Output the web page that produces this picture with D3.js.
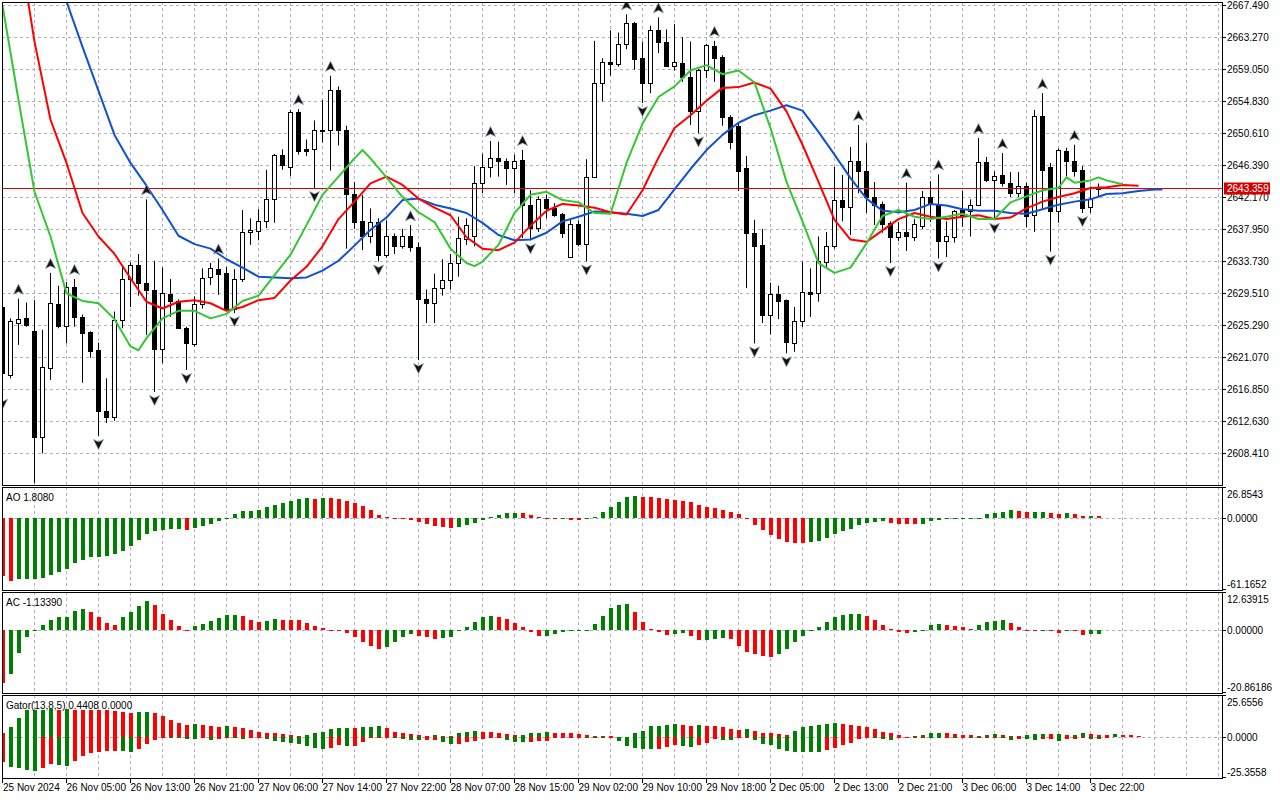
<!DOCTYPE html>
<html>
<head>
<meta charset="utf-8">
<script src="https://cdn.jsdelivr.net/npm/d3@7"></script>
<style>
  body { margin: 0; background: #fff; }
  svg { display: block; }
  text { font-family: "Liberation Sans", Arial, sans-serif; font-size: 10px; fill: #000; }
</style>
</head>
<body>
<div id="chart"></div>
<script>
// XAUUSD H1, 138 bars (index 0 = first visible bar)
const open = [
  2627.7, 2618.7, 2625.6, 2626.2, 2624.5, 2610.5, 2619.7, 2628.1, 2625.2, 2630.3,
  2626.4, 2624.4, 2622.0, 2614.0, 2613.2, 2626.0, 2631.4, 2633.2, 2630.9, 2629.9,
  2622.2, 2629.4, 2628.5, 2624.9, 2622.8, 2628.1, 2631.6, 2632.7, 2632.2, 2627.5,
  2631.4, 2637.6, 2637.7, 2639.0, 2642.0, 2647.8, 2646.2, 2653.4, 2648.5, 2648.6,
  2651.1, 2651.1, 2656.3, 2651.0, 2642.6, 2639.0, 2637.1, 2638.9, 2634.6, 2637.1,
  2635.7, 2637.1, 2635.6, 2628.8, 2628.2, 2630.2, 2631.2, 2633.5, 2636.7, 2637.1,
  2644.0, 2646.1, 2647.4, 2647.0, 2646.0, 2647.1, 2641.2, 2638.1, 2642.0, 2640.8,
  2640.0, 2634.3, 2638.6, 2636.0, 2644.8, 2657.3, 2660.0, 2659.8, 2662.4, 2665.2,
  2660.5, 2657.2, 2664.2, 2662.7, 2659.5, 2659.9, 2658.0, 2653.5, 2658.9, 2662.1,
  2660.7, 2652.8, 2651.6, 2646.0, 2637.4, 2635.9, 2626.7, 2629.4, 2628.6, 2623.0,
  2625.8, 2629.7, 2629.5, 2633.6, 2635.8, 2641.8, 2640.9, 2646.9, 2645.6, 2642.2,
  2641.3, 2638.8, 2637.0, 2637.6, 2637.0, 2638.4, 2642.2, 2641.3, 2636.4, 2637.0,
  2640.5, 2640.4, 2641.1, 2646.8, 2644.4, 2645.1, 2644.0, 2642.7, 2643.7, 2639.9,
  2652.9, 2646.1, 2640.3, 2648.3, 2647.0, 2645.8, 2640.9, 2643.3
];
const high = [
  2628.6, 2626.2, 2628.8, 2628.3, 2628.6, 2624.7, 2632.2, 2630.5, 2631.0, 2631.4,
  2626.7, 2624.5, 2623.0, 2618.3, 2627.1, 2633.2, 2633.6, 2634.7, 2641.9, 2633.8,
  2632.9, 2631.4, 2628.7, 2625.1, 2629.1, 2632.8, 2633.5, 2634.1, 2633.0, 2632.7,
  2640.5, 2639.4, 2640.6, 2645.8, 2647.9, 2648.5, 2653.7, 2653.8, 2649.8, 2652.3,
  2655.0, 2658.2, 2656.8, 2651.6, 2644.2, 2642.5, 2640.7, 2639.4, 2639.1, 2637.4,
  2638.0, 2638.5, 2636.2, 2630.0, 2632.1, 2634.0, 2634.7, 2639.6, 2639.4, 2646.3,
  2647.9, 2649.6, 2649.5, 2647.3, 2647.8, 2648.4, 2643.1, 2642.3, 2642.5, 2641.4,
  2640.1, 2639.2, 2639.1, 2647.2, 2662.8, 2660.5, 2664.2, 2663.9, 2666.3, 2665.3,
  2662.7, 2664.8, 2665.9, 2664.3, 2665.0, 2663.3, 2662.7, 2659.1, 2662.4, 2662.8,
  2660.9, 2653.0, 2652.0, 2647.6, 2639.2, 2638.0, 2630.9, 2630.5, 2628.7, 2627.7,
  2633.7, 2632.8, 2637.0, 2637.6, 2646.2, 2645.1, 2648.8, 2651.7, 2649.3, 2644.2,
  2641.6, 2639.0, 2638.9, 2644.1, 2639.3, 2643.0, 2644.3, 2645.2, 2639.0, 2640.5,
  2643.0, 2641.9, 2650.0, 2647.5, 2645.6, 2648.0, 2645.5, 2645.5, 2644.1, 2653.7,
  2655.9, 2646.7, 2648.6, 2648.7, 2649.1, 2646.3, 2643.6, 2644.0
];
const low = [
  2616.0, 2618.3, 2622.7, 2625.1, 2604.5, 2608.4, 2618.1, 2624.9, 2622.9, 2625.1,
  2617.7, 2621.0, 2610.7, 2612.4, 2612.7, 2624.9, 2627.7, 2629.2, 2624.0, 2616.5,
  2620.3, 2626.4, 2624.8, 2619.4, 2622.5, 2627.5, 2630.6, 2629.3, 2627.3, 2626.9,
  2631.0, 2635.9, 2636.5, 2638.1, 2638.8, 2645.8, 2645.0, 2647.8, 2647.6, 2643.4,
  2649.4, 2645.7, 2649.0, 2635.4, 2638.0, 2635.2, 2636.1, 2633.7, 2634.2, 2634.7,
  2635.4, 2635.0, 2620.7, 2625.6, 2625.6, 2629.2, 2630.0, 2631.7, 2635.9, 2635.7,
  2642.7, 2644.8, 2644.9, 2643.8, 2642.7, 2636.8, 2636.5, 2637.6, 2639.4, 2639.6,
  2636.8, 2634.2, 2635.7, 2633.7, 2644.7, 2654.8, 2658.2, 2659.4, 2661.7, 2659.0,
  2654.6, 2655.9, 2661.2, 2659.4, 2658.9, 2657.4, 2651.7, 2650.6, 2657.9, 2657.4,
  2651.6, 2648.5, 2643.0, 2630.2, 2622.9, 2625.6, 2624.1, 2626.1, 2621.6, 2621.8,
  2625.1, 2626.4, 2628.4, 2633.0, 2635.4, 2639.0, 2637.2, 2642.7, 2640.1, 2638.5,
  2637.5, 2633.5, 2636.4, 2635.1, 2636.4, 2638.0, 2638.9, 2634.1, 2634.3, 2636.2,
  2638.3, 2637.0, 2641.0, 2644.2, 2639.2, 2643.6, 2642.2, 2642.2, 2638.2, 2637.6,
  2640.5, 2635.0, 2638.8, 2644.9, 2644.9, 2640.1, 2640.1, 2642.2
];
const close = [
  2619.0, 2625.8, 2626.1, 2625.3, 2610.5, 2619.8, 2628.2, 2625.2, 2630.3, 2626.4,
  2624.3, 2621.9, 2614.0, 2613.2, 2626.0, 2631.4, 2633.2, 2630.9, 2629.9, 2622.2,
  2629.5, 2628.5, 2624.9, 2622.9, 2628.1, 2631.5, 2632.9, 2632.1, 2627.5, 2631.4,
  2637.6, 2637.8, 2639.1, 2642.0, 2647.8, 2646.4, 2653.4, 2648.3, 2648.3, 2651.0,
  2650.9, 2656.3, 2651.0, 2642.6, 2638.9, 2637.1, 2638.9, 2634.6, 2637.1, 2635.8,
  2637.1, 2635.6, 2628.7, 2628.2, 2630.2, 2631.2, 2633.5, 2636.8, 2638.5, 2644.0,
  2646.1, 2647.4, 2646.9, 2646.0, 2647.0, 2641.2, 2638.1, 2642.0, 2640.8, 2639.8,
  2637.4, 2638.7, 2636.0, 2644.8, 2657.3, 2660.0, 2659.8, 2662.4, 2665.2, 2660.4,
  2657.2, 2664.2, 2662.7, 2659.5, 2660.0, 2658.0, 2653.5, 2659.0, 2662.3, 2660.6,
  2652.7, 2649.5, 2645.6, 2637.4, 2635.8, 2626.7, 2629.4, 2628.5, 2623.1, 2625.8,
  2629.7, 2629.4, 2633.8, 2635.8, 2641.8, 2640.9, 2646.9, 2645.6, 2642.2, 2641.2,
  2638.7, 2637.0, 2637.6, 2637.1, 2638.7, 2642.2, 2641.3, 2636.4, 2637.1, 2640.4,
  2639.8, 2641.1, 2646.8, 2644.4, 2645.0, 2644.0, 2642.7, 2643.7, 2639.7, 2652.9,
  2645.8, 2640.4, 2648.4, 2646.9, 2645.6, 2640.8, 2642.0, 2643.359
];

// Alligator lines as [bar index, price] (already shifted forward: jaw 8, teeth 5, lips 3)
const jaw = [
  [6, 2672.0], [8, 2668.0], [10, 2662.0], [12, 2656.2], [14, 2650.4], [16, 2646.7], [18, 2643.7],
  [20, 2640.5], [22, 2637.1], [24, 2636.0], [26, 2635.4], [28, 2634.0], [30, 2632.9], [32, 2631.7],
  [34, 2631.6], [36, 2631.5], [38, 2631.6], [40, 2632.5], [42, 2633.8], [44, 2635.8], [46, 2637.9],
  [48, 2639.5], [50, 2641.8], [52, 2642.0], [54, 2641.2], [56, 2640.7], [58, 2640.1], [60, 2638.8],
  [62, 2637.2], [64, 2636.5], [66, 2636.6], [68, 2637.5], [70, 2639.0], [72, 2639.6], [74, 2640.3],
  [76, 2640.2], [78, 2640.0], [80, 2639.7], [82, 2640.5], [84, 2643.2], [86, 2645.9], [88, 2648.4],
  [90, 2650.4], [92, 2652.0], [94, 2653.0], [96, 2653.6], [98, 2654.3], [100, 2653.6], [102, 2650.8],
  [104, 2647.8], [106, 2644.7], [108, 2642.0], [110, 2640.4], [112, 2640.2], [114, 2640.5], [116, 2641.3],
  [118, 2641.1], [120, 2640.6], [122, 2640.4], [124, 2640.4], [126, 2640.1], [128, 2640.0], [130, 2640.6],
  [132, 2641.2], [134, 2641.6], [136, 2641.9], [138, 2642.6], [140, 2642.7], [142, 2643.0], [144, 2643.2],
  [145, 2643.2]
];
const teeth = [
  [2, 2676.0], [4, 2662.7], [6, 2652.4], [8, 2646.7], [10, 2640.1], [12, 2637.0], [14, 2634.7],
  [16, 2631.5], [18, 2628.4], [20, 2627.5], [22, 2628.4], [24, 2628.6], [26, 2628.2], [28, 2627.2],
  [30, 2627.7], [32, 2628.6], [34, 2628.9], [36, 2631.2], [38, 2633.0], [40, 2635.7], [42, 2639.3],
  [44, 2641.6], [46, 2644.0], [48, 2644.9], [50, 2643.8], [52, 2642.0], [54, 2640.8], [56, 2639.8],
  [58, 2636.9], [60, 2635.4], [62, 2635.2], [64, 2636.2], [66, 2638.4], [68, 2640.4], [70, 2641.3],
  [72, 2641.1], [74, 2640.8], [76, 2640.2], [78, 2639.9], [80, 2643.1], [82, 2647.4], [84, 2651.3],
  [86, 2653.0], [88, 2654.9], [90, 2656.6], [92, 2656.7], [94, 2657.3], [96, 2656.5], [98, 2653.5],
  [100, 2649.1], [102, 2644.2], [104, 2639.2], [106, 2636.6], [108, 2636.3], [110, 2637.8], [112, 2639.3],
  [114, 2640.1], [116, 2639.6], [118, 2639.3], [120, 2639.6], [122, 2639.8], [124, 2639.3], [126, 2639.5],
  [128, 2640.7], [130, 2641.6], [132, 2642.2], [134, 2642.7], [136, 2643.4], [138, 2643.5], [140, 2643.8],
  [142, 2643.7]
];
const lips = [
  [0, 2667.5], [2, 2655.0], [4, 2642.9], [6, 2637.0], [8, 2629.5], [10, 2628.5], [12, 2628.2],
  [14, 2626.1], [16, 2622.5], [17, 2622.0], [18, 2623.6], [20, 2626.2], [22, 2627.2], [24, 2627.2],
  [26, 2626.2], [28, 2626.8], [30, 2628.5], [32, 2629.2], [34, 2631.9], [36, 2634.6], [38, 2638.5],
  [40, 2642.5], [42, 2644.9], [44, 2647.3], [45, 2648.4], [46, 2647.3], [48, 2644.8], [50, 2642.2],
  [52, 2640.2], [54, 2638.9], [56, 2635.4], [58, 2633.5], [59, 2633.1], [60, 2633.7], [62, 2635.9],
  [64, 2640.1], [66, 2642.5], [68, 2642.9], [70, 2641.8], [72, 2641.5], [74, 2640.1], [76, 2640.0],
  [78, 2646.7], [80, 2651.9], [82, 2655.4], [84, 2656.8], [86, 2658.9], [88, 2659.6], [90, 2658.4],
  [92, 2658.9], [94, 2657.3], [96, 2651.3], [98, 2644.2], [100, 2639.0], [102, 2633.5], [104, 2632.2],
  [106, 2632.9], [108, 2636.1], [110, 2639.7], [112, 2640.5], [114, 2639.6], [116, 2639.3], [118, 2639.6],
  [120, 2640.0], [122, 2639.3], [124, 2639.3], [126, 2641.5], [128, 2642.3], [130, 2643.1], [132, 2643.4],
  [133, 2644.8], [134, 2644.1], [136, 2644.4], [137, 2644.8], [138, 2644.4], [140, 2643.9]
];

// Bill Williams fractals (bar indices)
const upFractals = [2, 6, 9, 18, 27, 37, 41, 51, 61, 65, 78, 82, 89, 107, 113, 117, 122, 125, 130, 134];
const downFractals = [0, 12, 19, 23, 29, 39, 47, 52, 66, 73, 80, 87, 94, 98, 111, 117, 124, 131, 135];

// Awesome Oscillator
const ao = [
  -49.1, -53.1, -52.0, -51.7, -51.4, -50.5, -48.3, -45.4, -43.2, -38.3,
  -35.5, -33.2, -32.7, -31.8, -30.4, -27.8, -23.3, -18.5, -13.1, -10.8,
  -9.9, -8.9, -8.8, -9.9, -7.9, -6.2, -4.5, -2.3, 0.6, 4.0,
  6.0, 6.2, 7.1, 9.7, 11.6, 13.3, 15.0, 16.8, 17.3, 16.5,
  17.6, 17.5, 16.5, 14.8, 13.1, 10.8, 7.1, 3.1, 1.1, 0.3,
  -0.6, -1.4, -2.8, -4.5, -6.2, -7.1, -8.2, -7.1, -5.4, -3.7,
  -1.1, 0.9, 2.6, 4.5, 4.8, 4.3, 2.8, 1.1, -0.1, -0.5,
  -0.3, -1.1, -1.4, -0.9, 1.1, 5.4, 9.9, 13.9, 18.2, 19.3,
  18.7, 17.9, 17.3, 16.5, 15.6, 14.5, 13.9, 11.4, 9.7, 8.8,
  7.1, 5.4, 3.7, 0.3, -5.7, -9.9, -14.2, -17.6, -20.2, -20.7,
  -21.3, -20.2, -19.0, -16.5, -13.3, -10.8, -9.1, -5.7, -3.7, -2.8,
  -2.6, -3.7, -4.5, -4.8, -5.1, -4.5, -2.3, -1.1, -0.9, -0.6,
  -0.3, -0.1, 0.6, 3.7, 4.5, 5.1, 6.8, 6.0, 5.1, 5.25,
  5.4, 4.3, 3.7, 4.3, 3.4, 2.0, 2.3, 1.808
];

// Accelerator Oscillator
const ac = [
  -17.6, -14.6, -7.7, -2.4, 0.2, 1.8, 3.4, 4.2, 4.5, 6.4,
  7.1, 6.1, 4.2, 2.4, 1.8, 4.2, 6.1, 8.1, 9.7, 8.4,
  5.4, 3.4, 1.4, -0.1, 1.2, 2.1, 3.1, 4.1, 5.0, 5.1,
  4.8, 3.4, 2.8, 3.1, 3.8, 3.5, 3.4, 3.3, 2.5, 1.4,
  0.8, -0.05, -0.1, -1.1, -2.4, -4.1, -5.4, -6.4, -5.7, -4.1,
  -2.3, -1.3, -1.9, -2.3, -2.9, -2.65, -2.4, -0.4, 1.1, 2.7,
  4.2, 4.8, 4.4, 3.8, 2.4, 1.1, -0.7, -1.9, -1.8, -1.3,
  -0.7, -0.4, 0.05, 0.1, 2.1, 4.8, 7.2, 8.4, 8.5, 6.1,
  2.8, 0.3, -0.7, -1.5, -1.3, -1.0, -1.8, -3.3, -3.2, -2.9,
  -2.76, -2.9, -5.2, -7.1, -7.8, -8.7, -8.8, -7.8, -6.2, -3.9,
  -1.8, -0.1, 1.1, 2.7, 4.4, 5.1, 5.2, 5.4, 4.8, 3.4,
  1.7, 0.4, -0.7, -0.9, -0.7, 0.2, 1.7, 2.1, 1.7, 1.4,
  1.1, 0.3, 1.7, 2.7, 3.1, 3.2, 2.4, 1.1, -0.2, -0.3,
  -0.1, -0.4, -0.8, -0.1, -0.4, -1.5, -1.2, -1.1339
];

// Gator Oscillator: upper |jaw - teeth|, lower |teeth - lips|
const gatorUp = [
  2.4, 5.7, 11.3, 16.6, 16.65, 16.7, 16.75, 16.7, 16.75, 16.7,
  16.65, 16.6, 16.55, 16.5, 15.6, 15.2, 14.8, 15.2, 15.4, 14.8,
  13.0, 10.5, 8.7, 7.5, 7.6, 7.5, 6.7, 6.1, 6.9, 6.1,
  5.3, 4.0, 3.2, 2.6, 2.55, 1.8, 0.8, 0.4, 1.2, 2.0,
  3.2, 4.5, 5.1, 5.2, 5.15, 5.7, 5.8, 6.3, 5.3, 3.2,
  2.0, 1.4, 0.8, 0.4, 0.8, 0.3, 0.2, 2.0, 3.2, 3.8,
  3.2, 3.1, 2.0, 1.4, 0.9, 1.0, 2.0, 2.6, 2.65, 2.6,
  2.55, 2.0, 1.4, 0.8, 0.6, 0.3, 0.2, 0.1, 0.05, 2.0,
  3.8, 6.3, 6.9, 7.5, 8.1, 7.5, 6.9, 6.95, 6.9, 6.3,
  5.7, 4.5, 4.45, 4.5, 3.8, 2.6, 2.4, 1.4, 1.0, 3.8,
  5.7, 6.9, 7.5, 8.1, 8.7, 8.1, 7.5, 6.9, 5.7, 4.5,
  3.2, 2.0, 0.8, 0.1, 0.4, 0.8, 2.0, 2.05, 2.0, 1.4,
  1.35, 0.8, 0.75, 0.8, 1.4, 0.8, 0.75, 0.2, 0.8, 1.4,
  1.45, 1.4, 1.45, 0.8, 0.85, 2.0, 1.4, 1.35, 0.8, 1.4,
  1.35, 0.8, 0.4408
];
const gatorDown = [
  15.8, 18.4, 19.2, 20.4, 21.1, 19.2, 16.8, 17.4, 17.8, 15.0,
  11.7, 9.9, 9.1, 8.7, 8.5, 8.7, 9.3, 7.3, 4.7, 2.0,
  0.3, 0.6, 1.0, 1.2, 1.4, 0.8, 2.0, 1.2, 0.6, 1.0,
  1.2, 0.6, 0.4, 1.6, 2.6, 3.2, 3.8, 4.7, 5.7, 6.7,
  7.3, 6.7, 5.3, 5.9, 5.7, 3.2, 0.8, 0.6, 0.2, 1.0,
  1.6, 2.2, 2.3, 2.0, 1.8, 3.2, 4.7, 4.5, 3.2, 2.6,
  1.6, 0.6, 0.4, 2.0, 3.2, 3.3, 3.2, 2.6, 2.5, 1.0,
  0.5, 0.3, 0.2, 0.4, 0.6, 0.8, 0.1, 2.6, 5.7, 7.1,
  7.5, 7.7, 7.5, 6.3, 5.3, 5.9, 6.0, 5.1, 4.1, 1.6,
  1.8, 1.9, 0.8, 0.2, 2.0, 4.7, 4.8, 7.7, 8.7, 9.5,
  9.55, 9.6, 9.65, 8.3, 7.1, 5.3, 4.0, 1.6, 0.1, 0.4,
  1.6, 2.2, 1.0, 0.2, 0.1, 0.05, 0.1, 0.2, 0.1, 0.5,
  0.3, 0.4, 0.5, 0.3, 0.2, 1.0, 2.2, 1.6, 1.65, 1.7,
  1.2, 1.1, 2.8, 1.6, 1.5, 0.1, 1.6, 1.65, 0.6
];
const gatorDownLast = 0.0;

// axes
const priceTicks = [2667.49, 2663.27, 2659.05, 2654.83, 2650.61, 2646.39, 2642.17, 2637.95,
  2633.73, 2629.51, 2625.29, 2621.07, 2616.85, 2612.63, 2608.41];
const aoRange = [-61.1652, 26.8543];
const acRange = [-20.86186, 12.63915];
const gatorRange = [-25.3558, 25.6556];
const timeTickIdx = [0, 8, 16, 24, 32, 40, 48, 56, 64, 72, 80, 88, 96, 104, 112, 120, 128, 136];
const timeLabels = ["25 Nov 2024", "26 Nov 05:00", "26 Nov 13:00", "26 Nov 21:00", "27 Nov 06:00",
  "27 Nov 14:00", "27 Nov 22:00", "28 Nov 07:00", "28 Nov 15:00", "29 Nov 02:00", "29 Nov 10:00",
  "29 Nov 18:00", "2 Dec 05:00", "2 Dec 13:00", "2 Dec 21:00", "3 Dec 06:00", "3 Dec 14:00", "3 Dec 22:00"];

const W = 1280, H = 800;
const plotL = 2, plotR = 1222;
const panels = {
  main: { top: 2, bottom: 485 },
  ao: { top: 487, bottom: 590 },
  ac: { top: 592, bottom: 693 },
  gator: { top: 695, bottom: 778 }
};
const GREEN = "#008000", RED = "#ff0000";

const x = d3.scaleLinear().domain([0, 152.5]).range([plotL, plotR]);
const cx = i => Math.round(x(i)) + 0.5;
const yMain = d3.scaleLinear().domain([priceTicks[priceTicks.length - 1], priceTicks[0]]).range([453.3, 5.3]);
const yAO = d3.scaleLinear().domain(aoRange).range([panels.ao.bottom, panels.ao.top]);
const yAC = d3.scaleLinear().domain(acRange).range([panels.ac.bottom, panels.ac.top]);
const yGator = d3.scaleLinear().domain(gatorRange).range([panels.gator.bottom, panels.gator.top]);

const svg = d3.select("#chart").append("svg").attr("width", W).attr("height", H);
svg.append("rect").attr("width", W).attr("height", H).attr("fill", "#fff");

const defs = svg.append("defs");
Object.entries(panels).forEach(([k, p]) => {
  defs.append("clipPath").attr("id", "clip-" + k).append("rect")
    .attr("x", plotL + 1).attr("y", p.top + 1)
    .attr("width", plotR - plotL - 1).attr("height", p.bottom - p.top - 1);
});

// grid
const gridIdx = d3.range(4, 153, 4);
Object.entries(panels).forEach(([k, p]) => {
  svg.append("g").selectAll("line").data(gridIdx).join("line")
    .attr("x1", cx).attr("x2", cx)
    .attr("y1", p.top).attr("y2", p.bottom)
    .attr("stroke", "#bba8c2").attr("stroke-dasharray", "3,3")
    .attr("shape-rendering", "crispEdges");
});
svg.append("g").selectAll("line").data(priceTicks).join("line")
  .attr("x1", plotL).attr("x2", plotR)
  .attr("y1", d => Math.round(yMain(d)) + 0.5).attr("y2", d => Math.round(yMain(d)) + 0.5)
  .attr("stroke", "#a9b8a9").attr("stroke-dasharray", "3,3")
  .attr("shape-rendering", "crispEdges");
[yAO, yAC, yGator].forEach(ys => {
  svg.append("line")
    .attr("x1", plotL).attr("x2", plotR)
    .attr("y1", Math.round(ys(0)) + 0.5).attr("y2", Math.round(ys(0)) + 0.5)
    .attr("stroke", "#a4b0c8").attr("stroke-dasharray", "3,3")
    .attr("shape-rendering", "crispEdges");
});

// main chart
const gMain = svg.append("g").attr("clip-path", "url(#clip-main)");
const bars = open.map((o, i) => ({ i, o, h: high[i], l: low[i], c: close[i] }));

gMain.append("g").selectAll("line").data(bars).join("line")
  .attr("x1", d => cx(d.i)).attr("x2", d => cx(d.i))
  .attr("y1", d => yMain(d.h)).attr("y2", d => yMain(d.l))
  .attr("stroke", "#000").attr("stroke-width", 1);

gMain.append("g").selectAll("rect").data(bars).join("rect")
  .attr("x", d => cx(d.i) - 2)
  .attr("width", 4)
  .attr("y", d => Math.round(yMain(Math.max(d.o, d.c))) + 0.5)
  .attr("height", d => Math.max(0.01, Math.round(yMain(Math.min(d.o, d.c))) - Math.round(yMain(Math.max(d.o, d.c)))))
  .attr("fill", d => d.c >= d.o ? "#fff" : "#000")
  .attr("stroke", "#000").attr("stroke-width", 1);

// bid line
const bid = close[close.length - 1];
gMain.append("line")
  .attr("x1", plotL).attr("x2", plotR)
  .attr("y1", Math.round(yMain(bid)) + 0.5).attr("y2", Math.round(yMain(bid)) + 0.5)
  .attr("stroke", "#e00000").attr("stroke-width", 1);

// alligator
const line = d3.line().x(d => cx(d[0])).y(d => yMain(d[1]));
[[jaw, "#1050d2"], [teeth, "#ff0000"], [lips, "#33c733"]].forEach(([pts, col]) => {
  gMain.append("path").attr("d", line(pts))
    .attr("fill", "none").attr("stroke", col).attr("stroke-width", 2)
    .attr("stroke-linejoin", "round");
});

// fractals
const upArrow = "M0,-5.5 L5,4.5 L0,2 L-5,4.5 Z";
const downArrow = "M0,5.5 L5,-4.5 L0,-2 L-5,-4.5 Z";
gMain.append("g").selectAll("path").data(upFractals).join("path")
  .attr("d", upArrow)
  .attr("transform", i => `translate(${cx(i)},${yMain(high[i]) - 9})`)
  .attr("fill", "#111").attr("stroke", "#8a9ab0").attr("stroke-width", 0.7);
gMain.append("g").selectAll("path").data(downFractals).join("path")
  .attr("d", downArrow)
  .attr("transform", i => `translate(${cx(i)},${yMain(low[i]) + 8})`)
  .attr("fill", "#111").attr("stroke", "#8a9ab0").attr("stroke-width", 0.7);

// histograms: green when the series grows versus the previous bar
function histogram(key, series, sign, ys) {
  const g = svg.append("g").attr("clip-path", `url(#clip-${key})`);
  const z = ys(0);
  g.selectAll("rect").data(series).join("rect")
    .attr("x", (v, i) => cx(i) - 1.5)
    .attr("width", 4)
    .attr("y", v => Math.min(z, ys(sign * v)))
    .attr("height", v => Math.max(1, Math.abs(ys(sign * v) - z)))
    .attr("fill", (v, i) => (i > 0 && v > series[i - 1]) ? GREEN : RED)
    .attr("shape-rendering", "crispEdges");
}
histogram("ao", ao, 1, yAO);
histogram("ac", ac, 1, yAC);
histogram("gator", gatorUp, 1, yGator);
histogram("gator", gatorDown, -1, yGator);

// panel borders
Object.values(panels).forEach(p => {
  svg.append("rect")
    .attr("x", plotL + 0.5).attr("y", p.top + 0.5)
    .attr("width", plotR - plotL).attr("height", p.bottom - p.top)
    .attr("fill", "none").attr("stroke", "#000").attr("stroke-width", 1);
});

// right price axis
const axisG = svg.append("g");
priceTicks.forEach(t => {
  const yy = Math.round(yMain(t)) + 0.5;
  axisG.append("line").attr("x1", plotR).attr("x2", plotR + 4).attr("y1", yy).attr("y2", yy).attr("stroke", "#000");
  axisG.append("text").attr("x", plotR + 5).attr("y", yy).attr("dy", "0.35em").text(t.toFixed(3));
});
const bidY = Math.round(yMain(bid)) + 0.5;
axisG.append("rect").attr("x", plotR + 2).attr("y", bidY - 6).attr("width", 46).attr("height", 12).attr("fill", "#d40000");
axisG.append("text").attr("x", plotR + 5).attr("y", bidY).attr("dy", "0.35em").style("fill", "#fff").text(bid.toFixed(3));

// sub panel axes and titles
function subAxis(p, ys, range, digits) {
  const rows = [
    { y: p.top + 0.5, ty: p.top + 7, v: range[1] },
    { y: Math.round(ys(0)) + 0.5, ty: Math.round(ys(0)) + 0.5, v: 0 },
    { y: p.bottom - 0.5, ty: p.bottom - 6, v: range[0] }
  ];
  rows.forEach(r => {
    axisG.append("line").attr("x1", plotR).attr("x2", plotR + 4).attr("y1", r.y).attr("y2", r.y).attr("stroke", "#000");
    axisG.append("text").attr("x", plotR + 5).attr("y", r.ty).attr("dy", "0.35em").text(r.v.toFixed(digits));
  });
}
subAxis(panels.ao, yAO, aoRange, 4);
subAxis(panels.ac, yAC, acRange, 5);
subAxis(panels.gator, yGator, gatorRange, 4);

svg.append("text").attr("x", 6).attr("y", panels.ao.top + 10).attr("dy", "0.35em")
  .text(`AO ${ao[ao.length - 1].toFixed(4)}`);
svg.append("text").attr("x", 6).attr("y", panels.ac.top + 10).attr("dy", "0.35em")
  .text(`AC ${ac[ac.length - 1].toFixed(5)}`);
svg.append("text").attr("x", 6).attr("y", panels.gator.top + 10).attr("dy", "0.35em")
  .text(`Gator(13,8,5) ${gatorUp[gatorUp.length - 1].toFixed(4)} ${gatorDownLast.toFixed(4)}`);

// time axis
const timeG = svg.append("g");
timeTickIdx.forEach((idx, k) => {
  const xx = cx(idx);
  timeG.append("line").attr("x1", xx).attr("x2", xx).attr("y1", panels.gator.bottom).attr("y2", panels.gator.bottom + 5).attr("stroke", "#000");
  timeG.append("text").attr("x", Math.max(xx, plotL + 1)).attr("y", 787).attr("dy", "0.35em").text(timeLabels[k]);
});
</script>
</body>
</html>
